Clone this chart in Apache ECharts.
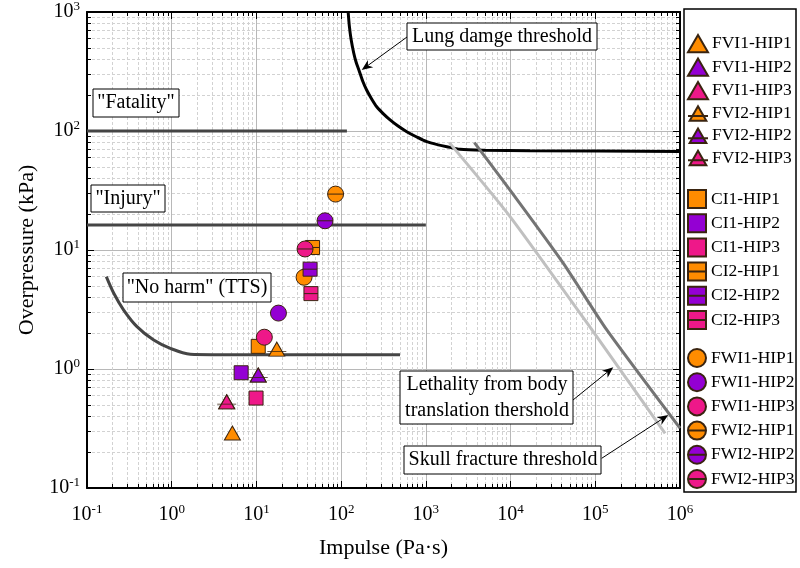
<!DOCTYPE html>
<html><head><meta charset="utf-8">
<script src="https://cdn.jsdelivr.net/npm/echarts@6/dist/echarts.min.js"></script>
<style>html,body{margin:0;padding:0;background:#fff}#c{width:800px;height:568px}</style>
</head><body><div id="c"></div>
<script>
// ---- data (Impulse Pa·s, Overpressure kPa), order HIP1, HIP2, HIP3 ----
const hipNames = ['HIP1', 'HIP2', 'HIP3'];
const hipColors = ['#FF8C00', '#9400D3', '#EE1889'];
const fvi1 = [[5.2, 0.29], [10.5, 0.89], [4.46, 0.53]];
const fvi2 = [[17.4, 1.47], [10.5, 0.89], [4.46, 0.53]];
const ci1 = [[10.5, 1.55], [6.6, 0.93], [9.9, 0.57]];
const ci2 = [[46, 10.5], [43, 6.9], [44, 4.3]];
const fwi1 = [[36.5, 5.9], [18.2, 2.95], [12.4, 1.85]];
const fwi2 = [[86, 29.5], [64.5, 17.6], [37.5, 10.2]];

// threshold curves
const fatalityLine = [[0.1, 100], [117, 100]];
const injuryLine = [[0.1, 16.2], [1000, 16.2]];
const noHarmLine = [[0.169, 5.97], [0.207, 4.33], [0.271, 3.13], [0.389, 2.27], [0.613, 1.75], [0.963, 1.49], [1.66, 1.33], [3, 1.32], [495, 1.32]];
const lungLine = [[121, 1000], [125, 760], [131, 590], [141, 450], [150, 380], [162, 326], [180, 262], [200, 221], [230, 185], [263, 160], [320, 138], [378, 124], [470, 110], [595, 98.6], [780, 89], [1025, 81.3], [1400, 76.5], [1766, 73.8], [2535, 70.2], [5000, 69], [17000, 68.3], [1e6, 67.3]];
const skullLine = [[3740, 79.8], [9860, 31.9], [42000, 7.73], [136800, 2.13], [1e6, 0.318]];
const lethalityLine = [[1892, 79.8], [9860, 19.1], [95000, 2.05], [667000, 0.288]];

const xRange = [0.1, 1e6];
const yRange = [0.1, 1000];

// ---- symbols ----
const P_TRI = 'path://M10,0L20,17.32L0,17.32Z';
const P_TRI_L = 'path://M10,0L20,17.32L0,17.32Z M-2,11.5L22,11.5';
const P_SQ = 'path://M0,0L20,0L20,20L0,20Z';
const P_SQ_L = 'path://M0,0L20,0L20,20L0,20Z M0,10L20,10';
const P_CI = 'path://M0,10A10,10 0 1 1 20,10A10,10 0 1 1 0,10Z';
const P_CI_L = 'path://M0,10A10,10 0 1 1 20,10A10,10 0 1 1 0,10Z M0,10L20,10';

const FONT = 'Liberation Serif';

const groups = [
  { key: 'FVI1', data: fvi1, sym: P_TRI, size: [16, 14] },
  { key: 'CI1', data: ci1, sym: P_SQ, size: [14, 14] },
  { key: 'FWI1', data: fwi1, sym: P_CI, size: [16, 16] },
  { key: 'FVI2', data: fvi2, sym: P_TRI_L, size: [19, 14] },
  { key: 'CI2', data: ci2, sym: P_SQ_L, size: [14, 14] },
  { key: 'FWI2', data: fwi2, sym: P_CI_L, size: [16, 16] }
];

const series = [];
function lineSeries(name, data, color, smooth) {
  return {
    name: name, type: 'line', data: data, showSymbol: false, symbol: 'none',
    smooth: smooth || false, z: 2, silent: true,
    lineStyle: { color: color, width: 3 }
  };
}
series.push(lineSeries('fatality', fatalityLine, '#454545'));
series.push(lineSeries('injury', injuryLine, '#454545'));
series.push(lineSeries('noharm', noHarmLine, '#454545', 0.3));
series.push(lineSeries('lung', lungLine, '#000000', 0.25));
series.push(lineSeries('lethality', lethalityLine, '#C0C0C0', 0.2));
series.push(lineSeries('skull', skullLine, '#747474', 0.2));

groups.forEach(g => {
  g.data.forEach((pt, i) => {
    series.push({
      name: g.key + '-' + hipNames[i], type: 'scatter', data: [pt],
      symbol: g.sym, symbolSize: g.size, z: 5,
      itemStyle: { color: hipColors[i], borderColor: '#3a2410', borderWidth: 1, opacity: 1 }
    });
  });
});

function legend(keys, top) {
  const data = [];
  keys.forEach(k => hipNames.forEach(h => data.push(k + '-' + h)));
  return {
    data: data, orient: 'vertical', left: 687, top: top, padding: 0,
    itemWidth: 20, itemHeight: 18, itemGap: 4.2, selectedMode: false,
    textStyle: { fontFamily: FONT, fontSize: 17.5, color: '#000', padding: [0, 0, 0, -1] }
  };
}

const labelFmt = v => { const e = Math.round(Math.log10(v)); return '{b|10}{s|' + e + '}'; };
const rich = {
  b: { fontFamily: FONT, fontSize: 20, color: '#000' },
  s: { fontFamily: FONT, fontSize: 13, color: '#000', padding: [0, 0, 11, 0] }
};

function xAx(pos, showLabel) {
  return {
    type: 'log', logBase: 10, min: xRange[0], max: xRange[1], splitNumber: 7, position: pos,
    name: showLabel ? 'Impulse (Pa·s)' : '', nameLocation: 'middle', nameGap: 49,
    nameTextStyle: { fontFamily: FONT, fontSize: 22, color: '#000' },
    axisLine: { show: true, onZero: false, lineStyle: { color: '#000', width: 2 } },
    axisTick: { show: true, inside: true, length: 7, lineStyle: { color: '#000' } },
    minorTick: { show: true, splitNumber: 9, length: 4, lineStyle: { color: '#000' } },
    axisLabel: { show: showLabel, formatter: labelFmt, rich: rich, margin: 15, fontFamily: FONT, fontSize: 20, color: '#000' },
    splitLine: { show: showLabel, lineStyle: { color: '#B8B8B8', width: 1 } },
    minorSplitLine: { show: showLabel, lineStyle: { color: '#D2D2D2', type: [3, 2], width: 1 } }
  };
}
function yAx(pos, showLabel) {
  return {
    type: 'log', logBase: 10, min: yRange[0], max: yRange[1], splitNumber: 4, position: pos,
    name: showLabel ? 'Overpressure (kPa)' : '', nameLocation: 'middle', nameGap: 49,
    nameTextStyle: { fontFamily: FONT, fontSize: 22, color: '#000' },
    axisLine: { show: true, onZero: false, lineStyle: { color: '#000', width: 2 } },
    axisTick: { show: true, inside: true, length: 7, lineStyle: { color: '#000' } },
    minorTick: { show: true, splitNumber: 9, length: 4, lineStyle: { color: '#000' } },
    axisLabel: { show: showLabel, formatter: labelFmt, rich: rich, margin: 7, fontFamily: FONT, fontSize: 20, color: '#000' },
    splitLine: { show: showLabel, lineStyle: { color: '#B8B8B8', width: 1 } },
    minorSplitLine: { show: showLabel, lineStyle: { color: '#D2D2D2', type: [3, 2], width: 1 } }
  };
}

// ---- annotations (pixel layout) ----
const graphics = [];
function box(x, y, w, h, text) {
  graphics.push({
    type: 'rect', z: 50, shape: { x: x, y: y, width: w, height: h },
    style: { fill: '#fff', stroke: '#000', lineWidth: 1 }
  });
  graphics.push({
    type: 'text', z: 51, x: Math.round(x + w / 2), y: Math.round(y + h / 2),
    style: { text: text, fill: '#000', stroke: null, lineWidth: 0, fontFamily: FONT, fontSize: 20, align: 'center', verticalAlign: 'middle', lineHeight: 26 }
  });
}
function arrow(x1, y1, x2, y2) {
  const a = Math.atan2(y2 - y1, x2 - x1), L = 11, W = 4.5;
  const bx = x2 - L * Math.cos(a), by = y2 - L * Math.sin(a);
  const nx = -Math.sin(a), ny = Math.cos(a);
  const mx = x2 - 0.7 * L * Math.cos(a), my = y2 - 0.7 * L * Math.sin(a);
  graphics.push({ type: 'line', z: 50, shape: { x1: x1, y1: y1, x2: mx, y2: my }, style: { stroke: '#000', lineWidth: 1 } });
  graphics.push({ type: 'polygon', z: 50, shape: { points: [[x2, y2], [bx + nx * W, by + ny * W], [mx, my], [bx - nx * W, by - ny * W]] }, style: { fill: '#000' } });
}
box(93, 89, 86, 28, '"Fatality"');
box(91, 185, 74, 27, '"Injury"');
box(123, 273, 148, 29, '"No harm" (TTS)');
box(407, 23, 190, 27, 'Lung damge threshold');
box(400, 371, 173, 53, 'Lethality from body\ntranslation thershold');
box(404, 446, 197, 28, 'Skull fracture threshold');
arrow(407, 37, 361.7, 70);
arrow(573, 400, 613.3, 367.3);
arrow(601.7, 458.3, 668.3, 415);
// legend frame
graphics.push({ type: 'rect', z: 1, shape: { x: 684, y: 9, width: 112, height: 483 }, style: { fill: 'none', stroke: '#000', lineWidth: 1.5 } });

const chart = echarts.init(document.getElementById('c'), null, { renderer: 'canvas' });
chart.setOption({
  backgroundColor: '#fff',
  animation: false,
  grid: { left: 87, top: 12, width: 593, height: 476, show: false },
  xAxis: [xAx('bottom', true), xAx('top', false)],
  yAxis: [yAx('left', true), yAx('right', false)],
  legend: [legend(['FVI1', 'FVI2'], 34), legend(['CI1', 'CI2'], 189), legend(['FWI1', 'FWI2'], 348)],
  series: series,
  graphic: graphics
});
</script>
</body></html>
